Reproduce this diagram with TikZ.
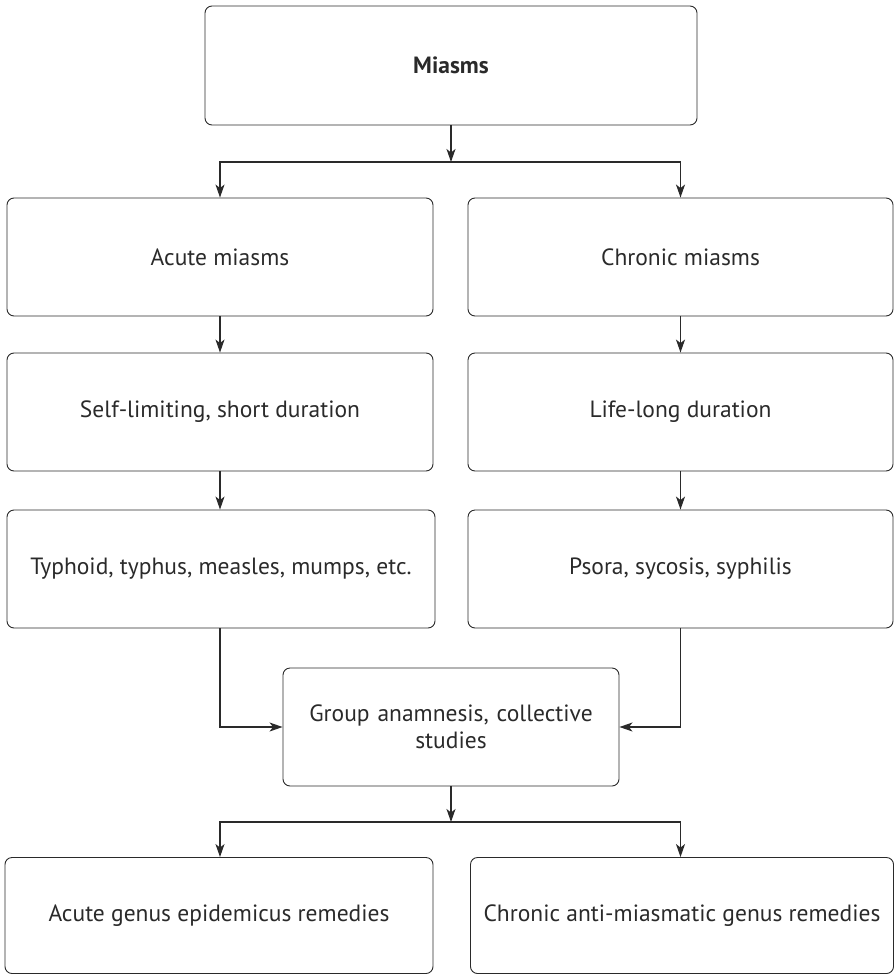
\documentclass[tikz,border=0pt]{standalone}
\usepackage{fontspec}
\setmainfont{PT Sans}
\usetikzlibrary{arrows.meta}
\definecolor{ln}{HTML}{2A2A2A}
\tikzset{
  box/.style={draw=ln, line width=0.9pt, rounded corners=7pt, align=center, text=ln,
    font=\fontsize{23.5}{27.5}\selectfont, inner sep=0pt},
  arr/.style={draw=ln, line width=1.2pt, -{Stealth[length=13pt,width=9pt,inset=3.5pt]}}
}
\begin{document}
\begin{tikzpicture}[x=1pt,y=-1pt]
\useasboundingbox (0,0) rectangle (894,974);
\node[box, minimum width=492pt, minimum height=119pt] (miasms) at (451,65.5) {\bfseries Miasms};
\node[box, minimum width=426pt, minimum height=118pt] (acute) at (220,257) {Acute miasms};
\node[box, minimum width=425pt, minimum height=118pt] (chronic) at (680.5,257) {Chronic miasms};
\node[box, minimum width=426pt, minimum height=118pt] (self) at (220,412) {Self-limiting, short duration};
\node[box, minimum width=425pt, minimum height=118pt] (life) at (680.5,412) {Life-long duration};
\node[box, minimum width=428pt, minimum height=118pt] (typhoid) at (221,569) {Typhoid, typhus, measles, mumps, etc.};
\node[box, minimum width=425pt, minimum height=118pt] (psora) at (680.5,569) {Psora, sycosis, syphilis};
\node[box, minimum width=336pt, minimum height=118pt, text width=320pt] (group) at (451,727) {Group anamnesis, collective\\studies};
\node[box, minimum width=428pt, minimum height=116pt] (acuterem) at (219,915.5) {Acute genus epidemicus remedies};
\node[box, minimum width=423pt, minimum height=116pt] (chronrem) at (682,915.5) {Chronic anti-miasmatic genus remedies};
\coordinate (j1) at (451,162);
\coordinate (j2) at (451,822);
\draw[arr] (miasms.south) -- (j1);
\draw[arr] (j1) -| (acute.north);
\draw[arr] (j1) -| (chronic.north);
\draw[arr] (acute) -- (self);
\draw[arr] (chronic) -- (life);
\draw[arr] (self) -- (typhoid.north -| self.south);
\draw[arr] (life) -- (psora);
\draw[arr] (typhoid.south -| acute.south) |- (group.west);
\draw[arr] (psora.south) |- (group.east);
\draw[arr] (group.south) -- (j2);
\draw[arr] (j2) -| (acuterem.north -| acute.south);
\draw[arr] (j2) -| (chronrem.north -| chronic.south);
\end{tikzpicture}
\end{document}
